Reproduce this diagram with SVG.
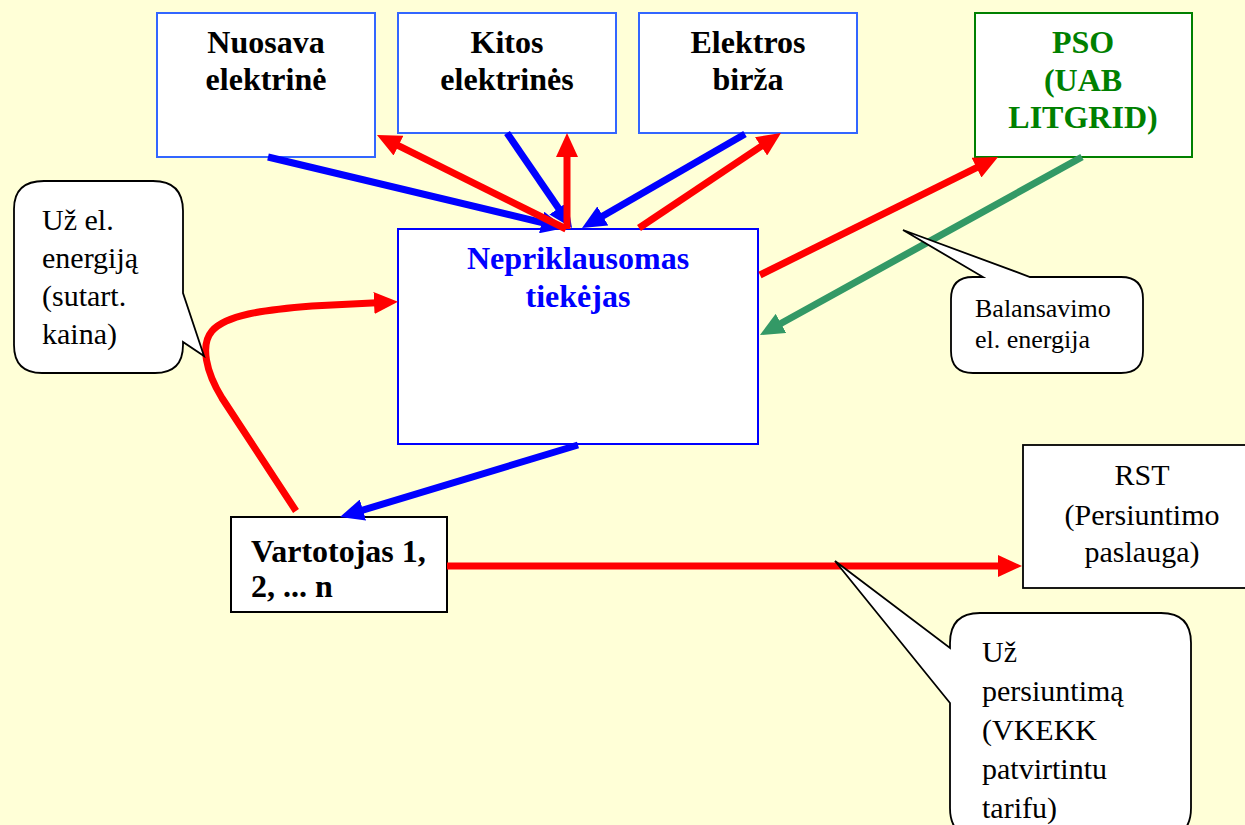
<svg xmlns="http://www.w3.org/2000/svg" width="1245" height="825" viewBox="0 0 1245 825" font-family="'Liberation Serif', 'DejaVu Serif', serif">
<defs>
<style>
.bx{fill:#FFFFFF;stroke-width:2}
.tb{font-family:'Liberation Serif','DejaVu Serif',serif;font-weight:bold;font-size:32px;text-anchor:middle;fill:#000}
.tr{font-family:'Liberation Serif','DejaVu Serif',serif;font-size:30px;fill:#000}
.co{fill:#FFFFFF;stroke:#000;stroke-width:1.8;stroke-linejoin:miter}
.ar{fill:none;stroke-width:7;stroke-linecap:butt}
.r{stroke:#FF0000}
.b{stroke:#0000FF}
.g{stroke:#339966}
</style>
<marker id="mr" markerUnits="userSpaceOnUse" markerWidth="24" markerHeight="22" viewBox="0 0 24 22" refX="8" refY="11" orient="auto"><path d="M0,0 L24,11 L0,22 Z" fill="#FF0000"/></marker>
<marker id="mb" markerUnits="userSpaceOnUse" markerWidth="24" markerHeight="22" viewBox="0 0 24 22" refX="8" refY="11" orient="auto"><path d="M0,0 L24,11 L0,22 Z" fill="#0000FF"/></marker>
<marker id="mg" markerUnits="userSpaceOnUse" markerWidth="24" markerHeight="22" viewBox="0 0 24 22" refX="8" refY="11" orient="auto"><path d="M0,0 L24,11 L0,22 Z" fill="#339966"/></marker>
</defs>
<rect x="0" y="0" width="1245" height="825" fill="#FFFFD7"/>

<g id="nuosava">
<rect class="bx" x="157" y="13" width="218" height="144" stroke="#3366FF"/>
<text class="tb" x="266" y="53">Nuosava</text>
<text class="tb" x="266" y="90">elektrinė</text>
</g>
<g id="kitos">
<rect class="bx" x="398" y="13" width="218" height="120" stroke="#3366FF"/>
<text class="tb" x="507" y="53">Kitos</text>
<text class="tb" x="507" y="90">elektrinės</text>
</g>
<g id="birza">
<rect class="bx" x="639" y="13" width="218" height="120" stroke="#3366FF"/>
<text class="tb" x="748" y="53">Elektros</text>
<text class="tb" x="748" y="90">birža</text>
</g>
<g id="pso">
<rect class="bx" x="975" y="13" width="217" height="144" stroke="#008000"/>
<text class="tb" x="1083" y="53" style="fill:#008000">PSO</text>
<text class="tb" x="1083" y="91" style="fill:#008000">(UAB</text>
<text class="tb" x="1083" y="128" style="fill:#008000">LITGRID)</text>
</g>
<g id="tiekejas">
<rect class="bx" x="398" y="229" width="360" height="215" stroke="#0000FF"/>
<text class="tb" x="578" y="269" style="fill:#0000FF">Nepriklausomas</text>
<text class="tb" x="578" y="307" style="fill:#0000FF">tiekėjas</text>
</g>
<g id="vartotojas">
<rect class="bx" x="231" y="517" width="216" height="95" stroke="#000"/>
<text class="tb" x="251" y="562" style="text-anchor:start">Vartotojas 1,</text>
<text class="tb" x="251" y="597" style="text-anchor:start">2, ... n</text>
</g>
<g id="rst">
<rect class="bx" x="1023" y="445" width="240" height="143" stroke="#000" style="stroke-width:1.8"/>
<text class="tr" x="1142" y="485" text-anchor="middle">RST</text>
<text class="tr" x="1142" y="525" text-anchor="middle">(Persiuntimo</text>
<text class="tr" x="1142" y="562" text-anchor="middle">paslauga)</text>
</g>

<g id="connectors">
<line class="ar b" x1="268" y1="157" x2="549.4" y2="224.3" marker-end="url(#mb)"/>
<line class="ar r" x1="566" y1="229" x2="391.3" y2="142.1" marker-end="url(#mr)"/>
<line class="ar b" x1="507" y1="133" x2="563" y2="214.8" marker-end="url(#mb)"/>
<line class="ar r" x1="567" y1="229" x2="567" y2="149" marker-end="url(#mr)"/>
<line class="ar b" x1="745" y1="134" x2="595.9" y2="220" marker-end="url(#mb)"/>
<line class="ar r" x1="639" y1="228" x2="767.7" y2="141.9" marker-end="url(#mr)"/>
<line class="ar r" x1="760" y1="275" x2="983.7" y2="164.1" marker-end="url(#mr)"/>
<line class="ar g" x1="1082" y1="157" x2="774" y2="327.3" marker-end="url(#mg)"/>
<line class="ar b" x1="578" y1="445" x2="355.3" y2="512.4" marker-end="url(#mb)"/>
<line class="ar r" x1="447" y1="566" x2="1006" y2="566" marker-end="url(#mr)"/>
<path class="ar r" d="M296,511 L222,398 C206,372 200,345 212,331 C226,315 262,310 312,306 L382,302.5" marker-end="url(#mr)"/>
</g>

<g id="callout-energija">
<path class="co" d="M44,181 H153 Q183,181 183,211 V293 L204,356 L183,342 V345 Q183,373 155,373 H42 Q14,373 14,345 V209 Q14,181 44,181 Z"/>
<text class="tr" x="42" y="230">Už el.</text>
<text class="tr" x="42" y="268">energiją</text>
<text class="tr" x="42" y="306">(sutart.</text>
<text class="tr" x="42" y="344">kaina)</text>
</g>
<g id="callout-balansavimo">
<path class="co" d="M973,277 H983 L903,230 L1030,277 H1121 Q1143,277 1143,299 V351 Q1143,373 1121,373 H973 Q951,373 951,351 V299 Q951,277 973,277 Z"/>
<text class="tr" x="975" y="317" style="font-size:26px">Balansavimo</text>
<text class="tr" x="975" y="348" style="font-size:26px">el. energija</text>
</g>
<g id="callout-persiuntimas">
<path class="co" d="M980,613 H1161 Q1191,613 1191,643 V808 Q1191,838 1161,838 H980 Q950,838 950,808 V703 L835,561 L950,648 V643 Q950,613 980,613 Z"/>
<text class="tr" x="982" y="662">Už</text>
<text class="tr" x="982" y="701">persiuntimą</text>
<text class="tr" x="982" y="740">(VKEKK</text>
<text class="tr" x="982" y="779">patvirtintu</text>
<text class="tr" x="982" y="818">tarifu)</text>
</g>
</svg>
